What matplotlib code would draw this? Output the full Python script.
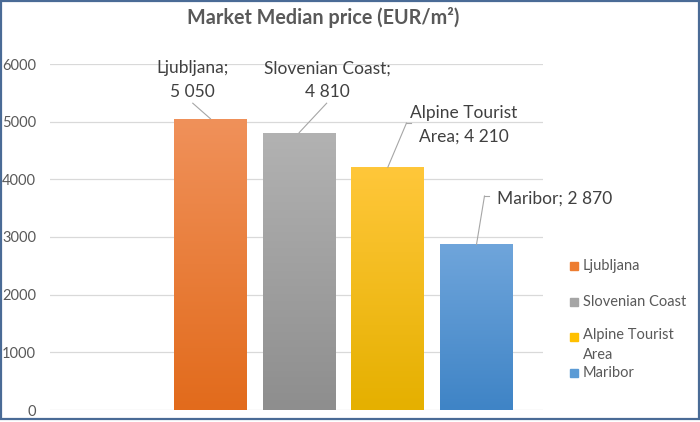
import numpy as np
import matplotlib
matplotlib.use("Agg")
import matplotlib.pyplot as plt
from matplotlib.colors import LinearSegmentedColormap
from matplotlib.patches import Rectangle

# data
regions = ["Ljubljana", "Slovenian Coast", "Alpine Tourist Area", "Maribor"]
prices = [5050, 4810, 4210, 2870]
label_texts = ["Ljubljana;\n5 050", "Slovenian Coast;\n4 810",
               "Alpine Tourist\nArea; 4 210", "Maribor; 2 870"]
legend_texts = ["Ljubljana", "Slovenian Coast", "Alpine Tourist\nArea", "Maribor"]
yticks = [0, 1000, 2000, 3000, 4000, 5000, 6000]

base_colors = ["#ed7d31", "#a5a5a5", "#ffc000", "#5b9bd5"]
grad = [("#f0915a", "#e26b1c"), ("#b2b2b2", "#8e8e8e"),
        ("#ffc73a", "#e5b000"), ("#6fa5db", "#3f84c6")]

TXT = "#595959"
plt.rcParams["font.family"] = ["Lato", "DejaVu Sans"]

fig = plt.figure(figsize=(7, 4.22), dpi=100)
ax = fig.add_axes([50 / 700, 12 / 422, 493 / 700, 346 / 422])

x = np.arange(len(regions))
bars = ax.bar(x, prices, width=0.82, color=base_colors, zorder=2)

# vertical gradient inside each bar
for b, (top, bot) in zip(bars, grad):
    cm = LinearSegmentedColormap.from_list("g", [bot, top])
    x0, w, h = b.get_x(), b.get_width(), b.get_height()
    im = ax.imshow(np.linspace(0, 1, 100).reshape(-1, 1), cmap=cm, aspect="auto",
                   origin="lower", extent=[x0, x0 + w, 0, h], zorder=3)
    im.set_clip_path(b)

ax.set_xlim(-1.81, 3.75)
ax.set_ylim(0, 6000)
ax.set_yticks(yticks)
ax.set_yticklabels([str(v) for v in yticks], fontsize=10.5, color=TXT)
ax.tick_params(axis="y", length=0, pad=10)
ax.set_xticks([])
ax.grid(axis="y", color="#d9d9d9", linewidth=0.9, zorder=0)
for s in ax.spines.values():
    s.set_visible(False)

# callout labels with leader lines
lab_pos = [(-0.2, 5720), (1.32, 5720), (2.86, 4940), (3.23, 3670)]
line_from = [(-0.2, 5320), (1.31, 5320), (2.21, 4975), (3.09, 3710)]
for i, (tx, ty) in enumerate(lab_pos):
    ha = "left" if i == 3 else "center"
    ax.text(tx, ty, label_texts[i], ha=ha, va="center", fontsize=12.5,
            color="#404040", linespacing=1.6, zorder=5)
    lx, ly = line_from[i]
    if i >= 2:
        ax.plot([lx, lx + 0.05], [ly, ly], color="#a6a6a6", lw=0.8, zorder=4)
    ax.plot([lx, x[i]], [ly, prices[i]], color="#a6a6a6", lw=0.8, zorder=4)

# legend
leg_y = [266, 302, 337, 373]
for i, yy in enumerate(leg_y):
    fig.patches.append(Rectangle((570 / 700, 1 - (yy + 4) / 422), 8 / 700, 8 / 422,
                                 transform=fig.transFigure, color=base_colors[i]))
    if "\n" in legend_texts[i]:
        fig.text(583 / 700, 1 - (yy - 9) / 422, legend_texts[i], fontsize=10.5,
                 color=TXT, va="top", linespacing=1.55)
    else:
        fig.text(583 / 700, 1 - yy / 422, legend_texts[i], fontsize=10.5,
                 color=TXT, va="center")

fig.text(323 / 700, 1 - 17 / 422, "Market Median price (EUR/m²)", ha="center",
         va="center", fontsize=14.2, fontweight="bold", color=TXT)

# chart border
fig.patches.append(Rectangle((0.001, 0.006), 0.997, 0.992, transform=fig.transFigure,
                             fill=False, edgecolor="#4a6b96", linewidth=1.6))

fig.savefig("out.png", dpi=100)
